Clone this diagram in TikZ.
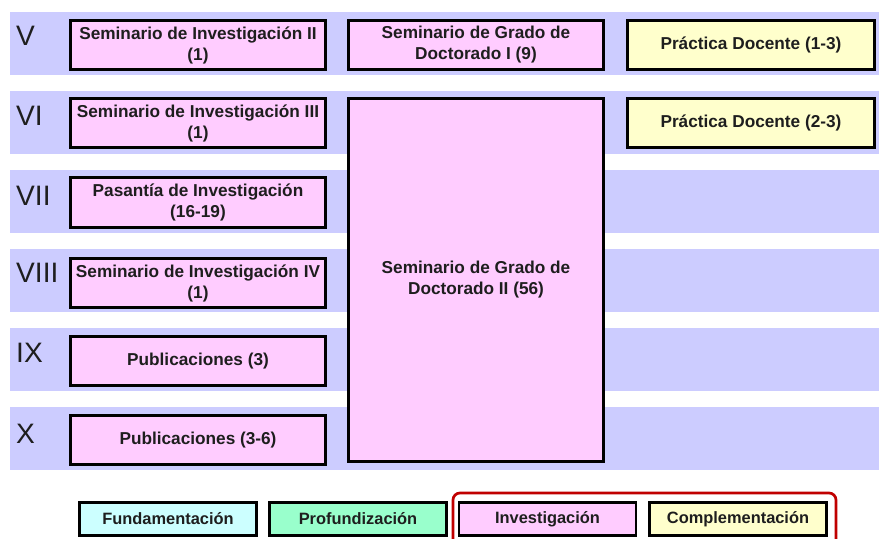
\documentclass[tikz,border=0pt]{standalone}
\usepackage{fontspec}
\setmainfont{Liberation Sans}
\definecolor{bandblue}{RGB}{204,204,255}
\definecolor{invpink}{RGB}{255,204,255}
\definecolor{compyellow}{RGB}{255,255,204}
\definecolor{fundcyan}{RGB}{204,255,255}
\definecolor{profgreen}{RGB}{153,255,204}
\definecolor{legendred}{RGB}{192,0,0}
\definecolor{inkgray}{RGB}{30,30,30}
\tikzset{
  band/.style={fill=bandblue, draw=none},
  course/.style={draw=black, line width=2.3pt, inner sep=0pt, align=center,
    text=inkgray, font=\fontsize{14.7}{17.9}\selectfont\bfseries},
  semcourse/.style={course, fill=invpink, minimum width=7.66cm, minimum height=1.48cm},
  doccourse/.style={course, fill=compyellow, minimum width=7.42cm, minimum height=1.48cm},
  legendbox/.style={course, minimum width=5.31cm, minimum height=1.0cm,
    font=\fontsize{14}{16}\selectfont\bfseries},
  sem/.style={anchor=base west, inner sep=0pt, text=inkgray,
    font=\fontsize{24}{24}\selectfont}
}
\begin{document}
\begin{tikzpicture}[x=0.03cm, y=-0.03cm]
\clip (0,0) rectangle (879,538);
\fill[white] (0,0) rectangle (879,538);
% semester bands
\fill[band] (10,12) rectangle (880,75);
\fill[band] (10,91) rectangle (880,154);
\fill[band] (10,170) rectangle (880,233);
\fill[band] (10,249) rectangle (880,312);
\fill[band] (10,328) rectangle (880,391);
\fill[band] (10,407) rectangle (880,470);
\node[sem] (s5) at (16,46) {V};
\node[sem] (s6) at (16,126) {VI};
\node[sem] (s7) at (16,205) {VII};
\node[sem] (s8) at (16,282) {VIII};
\node[sem] (s9) at (16,362) {IX};
\node[sem] (s10) at (16,443) {X};
% left column
\node[semcourse] (inv2) at (198,45) {Seminario de Investigación II\\(1)};
\node[semcourse] (inv3) at (198,123) {Seminario de Investigación III\\(1)};
\node[semcourse] (pas) at (198,202.5) {Pasantía de Investigación\\(16-19)};
\node[semcourse] (inv4) at (198,283) {Seminario de Investigación IV\\(1)};
\node[semcourse] (pub1) at (198,361) {Publicaciones (3)};
\node[semcourse] (pub2) at (198,440) {Publicaciones (3-6)};
% middle column
\node[semcourse] (grado1) at (476,45) {Seminario de Grado de\\Doctorado I (9)};
\node[semcourse, minimum height=10.9cm] (grado2) at (476,280) {Seminario de Grado de\\Doctorado II (56)};
% right column
\node[doccourse] (doc1) at (751,45) {Práctica Docente (1-3)};
\node[doccourse] (doc2) at (751,123) {Práctica Docente (2-3)};
% legend
\node[legendbox, fill=fundcyan] (fund) at (168,519) {Fundamentación};
\node[legendbox, fill=profgreen] (prof) at (358,519) {Profundización};
\node[legendbox, fill=invpink] (inv) at (547.5,519) {Investigación};
\node[legendbox, fill=compyellow] (comp) at (738,519) {Complementación};
\draw[legendred, line width=2.3pt, rounded corners=6] (453,493) rectangle (836,560);
\end{tikzpicture}
\end{document}
